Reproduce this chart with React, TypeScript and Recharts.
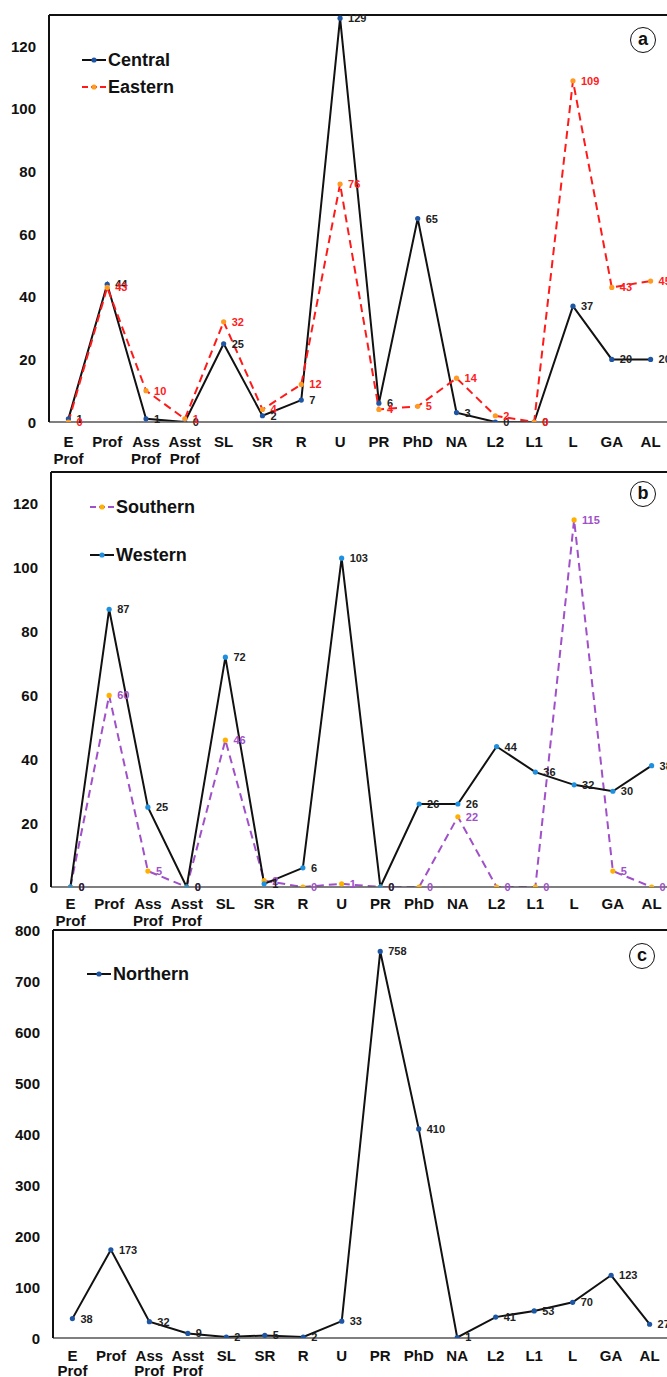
import React from "react";
import { LineChart, Line, XAxis, YAxis, ReferenceLine, LabelList } from "recharts";

const categories = ["E Prof", "Prof", "Ass Prof", "Asst Prof", "SL", "SR", "R", "U", "PR", "PhD", "NA", "L2", "L1", "L", "GA", "AL"];

const central = [1, 44, 1, 0, 25, 2, 7, 129, 6, 65, 3, 0, 0, 37, 20, 20];
const eastern = [0, 43, 10, 1, 32, 4, 12, 76, 4, 5, 14, 2, 0, 109, 43, 45];
const southern = [0, 60, 5, 0, 46, 2, 0, 1, 0, 0, 22, 0, 0, 115, 5, 0];
const western = [0, 87, 25, 0, 72, 1, 6, 103, 0, 26, 26, 44, 36, 32, 30, 38];
const northern = [38, 173, 32, 9, 2, 5, 2, 33, 758, 410, 1, 41, 53, 70, 123, 27];

const ticksAB = [0, 20, 40, 60, 80, 100, 120];
const ticksC = [0, 100, 200, 300, 400, 500, 600, 700, 800];

const dataAB = categories.map((c, i) => ({
  name: c,
  central: central[i],
  eastern: eastern[i],
  southern: southern[i],
  western: western[i],
}));
const dataC = categories.map((c, i) => ({ name: c, northern: northern[i] }));

const FONT = "'Liberation Sans', Arial, sans-serif";

const makeXTick = (first: number, gap: number) => (props: any) => {
  const { x, y, payload } = props;
  const parts = String(payload.value).split(" ");
  return (
    <g>
      {parts.map((p: string, i: number) => (
        <text
          key={i}
          x={x}
          y={y + first + i * gap}
          textAnchor="middle"
          dominantBaseline="central"
          fontFamily={FONT}
          fontWeight="bold"
          fontSize={15}
          fill="#111"
        >
          {p}
        </text>
      ))}
    </g>
  );
};

const YTick = (props: any) => {
  const { x, y, payload } = props;
  return (
    <text x={x} y={y} textAnchor="end" dominantBaseline="central" fontFamily={FONT} fontWeight="bold" fontSize={15} fill="#111">
      {payload.value}
    </text>
  );
};

const makeLabel = (color: string) => (props: any) => {
  const { x, y, value } = props;
  return (
    <text x={x + 8} y={y} dominantBaseline="central" fontFamily={FONT} fontWeight="bold" fontSize={11} fill={color}>
      {value}
    </text>
  );
};

const makeDot = (color: string) => (props: any) => {
  const { cx, cy, index } = props;
  return <circle key={index} cx={cx} cy={cy} r={2.6} fill={color} />;
};

const LegendItem = ({ top, left, label, stroke, dash, dot }: any) => (
  <div style={{ position: "absolute", top, left, display: "flex", alignItems: "center", height: 24 }}>
    <svg width={24} height={10} style={{ display: "block" }}>
      <line x1={0} y1={5} x2={24} y2={5} stroke={stroke} strokeWidth={2} strokeDasharray={dash} />
      <circle cx={12} cy={5} r={2.6} fill={dot} />
    </svg>
    <span style={{ fontFamily: FONT, fontWeight: "bold", fontSize: 18, color: "#111", marginLeft: 2 }}>{label}</span>
  </div>
);

const Badge = ({ top, left, text }: any) => (
  <div
    style={{
      position: "absolute",
      top,
      left,
      width: 26,
      height: 26,
      borderRadius: "50%",
      border: "1.3px solid #111",
      boxSizing: "border-box",
      display: "flex",
      alignItems: "center",
      justifyContent: "center",
      fontFamily: FONT,
      fontWeight: "bold",
      fontSize: 18,
      lineHeight: "18px",
      color: "#111",
      background: "#fff",
    }}
  >
    <span style={{ marginTop: -3 }}>{text}</span>
  </div>
);

const PAD = 19.4;
const XTickA = makeXTick(17, 17);
const XTickB = makeXTick(14, 17);
const XTickC = makeXTick(15, 15);

export default function App() {
  return (
    <div style={{ position: "absolute", left: 0, top: 0, width: 667, height: 1377, overflow: "hidden", background: "#fff" }}>
      {/* Panel c (drawn first, so upper panels' labels stay on top) */}
      <div style={{ position: "absolute", left: 0, top: 915 }}>
        <LineChart width={679} height={471} data={dataC} margin={{ top: 15, right: 10, left: 0, bottom: 0 }}>
          <XAxis dataKey="name" interval={0} height={48} tick={<XTickC />} tickLine={false} tickSize={0} padding={{ left: PAD, right: PAD }} axisLine={{ stroke: "#555", strokeWidth: 1.5 }} />
          <YAxis width={53} domain={[0, 800]} ticks={ticksC} tick={<YTick />} tickLine={false} tickSize={0} tickMargin={13} axisLine={{ stroke: "#111", strokeWidth: 2 }} allowDataOverflow />
          <ReferenceLine y={800} stroke="#111" strokeWidth={2} />
          <Line dataKey="northern" stroke="#111" strokeWidth={2} dot={makeDot("#1f56a3")} isAnimationActive={false}>
            <LabelList dataKey="northern" content={makeLabel("#222")} />
          </Line>
        </LineChart>
        <LegendItem top={47} left={87} label="Northern" stroke="#111" dot="#1f56a3" />
        <Badge top={28} left={629} text="c" />
      </div>

      {/* Panel b */}
      <div style={{ position: "absolute", left: 0, top: 457 }}>
        <LineChart width={681} height={478} data={dataAB} margin={{ top: 15, right: 10, left: 0, bottom: 0 }}>
          <XAxis dataKey="name" interval={0} height={48} tick={<XTickB />} tickLine={false} tickSize={0} padding={{ left: PAD, right: PAD }} axisLine={{ stroke: "#555", strokeWidth: 1.5 }} />
          <YAxis width={51} domain={[0, 130]} ticks={ticksAB} tick={<YTick />} tickLine={false} tickSize={0} tickMargin={13} axisLine={{ stroke: "#111", strokeWidth: 2 }} allowDataOverflow />
          <ReferenceLine y={130} stroke="#111" strokeWidth={2} />
          <Line dataKey="southern" stroke="#a050c8" strokeWidth={2} strokeDasharray="8 5" dot={makeDot("#ffb000")} isAnimationActive={false}>
            <LabelList dataKey="southern" content={makeLabel("#a050c8")} />
          </Line>
          <Line dataKey="western" stroke="#111" strokeWidth={2} dot={makeDot("#1e90e0")} isAnimationActive={false}>
            <LabelList dataKey="western" content={makeLabel("#222")} />
          </Line>
        </LineChart>
        <LegendItem top={38} left={90} label="Southern" stroke="#a050c8" dash="6 3" dot="#ffb000" />
        <LegendItem top={86} left={90} label="Western" stroke="#111" dot="#1e90e0" />
        <Badge top={24} left={630} text="b" />
      </div>

      {/* Panel a */}
      <div style={{ position: "absolute", left: 0, top: 0 }}>
        <LineChart width={680} height={470} data={dataAB} margin={{ top: 15, right: 10, left: 0, bottom: 0 }}>
          <XAxis dataKey="name" interval={0} height={48} tick={<XTickA />} tickLine={false} tickSize={0} padding={{ left: PAD, right: PAD }} axisLine={{ stroke: "#555", strokeWidth: 1.5 }} />
          <YAxis width={49} domain={[0, 130]} ticks={ticksAB} tick={<YTick />} tickLine={false} tickSize={0} tickMargin={13} axisLine={{ stroke: "#111", strokeWidth: 2 }} allowDataOverflow />
          <ReferenceLine y={130} stroke="#111" strokeWidth={2} />
          <Line dataKey="central" stroke="#111" strokeWidth={2} dot={makeDot("#1f56a3")} isAnimationActive={false}>
            <LabelList dataKey="central" content={makeLabel("#222")} />
          </Line>
          <Line dataKey="eastern" stroke="#ff1a1a" strokeWidth={2} strokeDasharray="8 5" dot={makeDot("#ff9a22")} isAnimationActive={false}>
            <LabelList dataKey="eastern" content={makeLabel("#ff2020")} />
          </Line>
        </LineChart>
        <LegendItem top={48} left={82} label="Central" stroke="#111" dot="#1f56a3" />
        <LegendItem top={75} left={82} label="Eastern" stroke="#ff1a1a" dash="6 3" dot="#ff9a22" />
        <Badge top={27} left={630} text="a" />
      </div>
    </div>
  );
}
